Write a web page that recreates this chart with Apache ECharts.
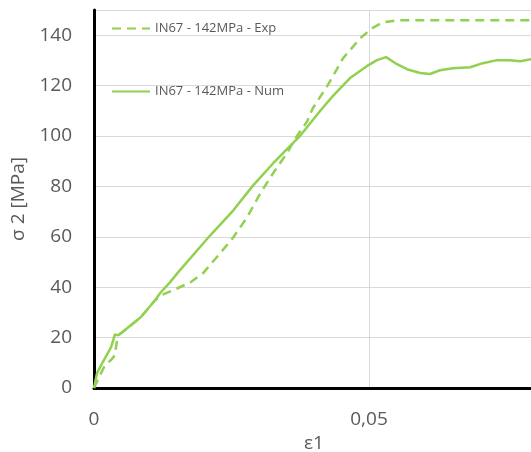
<!DOCTYPE html>
<html><head><meta charset="utf-8">
<script src="https://cdn.jsdelivr.net/npm/echarts@6/dist/echarts.min.js"></script>
<style>html,body{margin:0;padding:0;background:#fff}#c{width:531px;height:452px}</style>
</head><body><div id="c"></div>
<script>
const seriesNames = ["IN67 - 142MPa - Exp", "IN67 - 142MPa - Num"];
const expX = [0,0.0011,0.002,0.0031,0.0038,0.004,0.0042,0.0045,0.0049,0.0067,0.0085,0.0111,0.0124,0.0144,0.0175,0.0198,0.0229,0.0253,0.0278,0.0302,0.0325,0.0351,0.0369,0.0387,0.0398,0.0424,0.0453,0.0484,0.0505,0.0525,0.0551,0.0795];
const expY = [0,5.1,9.1,11.1,13.0,16.2,19.0,21.0,21.7,24.9,28.1,34.8,37.0,38.8,41.9,45.5,53.4,59.7,67.6,77.1,85.0,93.3,100.0,105.6,111.1,119.8,130.9,138.8,142.7,145.1,145.9,145.9];
const numX = [0,0.00055,0.0016,0.0025,0.0031,0.0035,0.0038,0.0044,0.0049,0.0067,0.0085,0.0111,0.0120,0.0138,0.0156,0.0211,0.0253,0.0289,0.0325,0.0362,0.03745,0.0411,0.04345,0.04655,0.0496,0.05145,0.0531,0.0551,0.0569,0.0593,0.0611,0.0629,0.0653,0.0684,0.0707,0.0733,0.0756,0.0775,0.0795];
const numY = [0,5.9,10.3,13.8,16.2,19.0,21.3,20.9,21.7,24.9,28.1,34.8,37.6,41.9,46.7,60.5,70.4,80.3,89.0,97.3,100.0,109.9,115.9,123.0,127.7,130.1,131.3,128.5,126.5,125.0,124.6,126.1,126.9,127.3,128.9,130.1,130.1,129.7,130.5];
const xTicks = [0, 0.05];
const yTicks = [0,20,40,60,80,100,120,140];

const pair = (xs, ys) => xs.map((x,i)=>[x, ys[i]]);
const green = '#92d050';
const txt = '#595959';
const ff = 'Open Sans';
const chart = echarts.init(document.getElementById('c'), null, {renderer:'canvas'});
chart.setOption({
  animation:false,
  backgroundColor:'#fff',
  grid:{left:94, right:-3, top:10, bottom:64, containLabel:false, outerBoundsMode:'none'},
  legend:{
    orient:'vertical', left:111, top:22, padding:0, itemWidth:38, itemHeight:14, itemGap:50,
    itemStyle:{opacity:0},
    textStyle:{color:txt, fontFamily:ff, fontSize:13},
    data:seriesNames
  },
  xAxis:{
    type:'value', min:0, max:0.08, interval:0.05,
    name:'ε1', nameLocation:'middle', nameGap:42,
    nameTextStyle:{color:txt, fontFamily:ff, fontSize:19},
    axisLine:{show:true, onZero:false, lineStyle:{color:'#000', width:3}},
    axisTick:{show:false},
    axisLabel:{color:txt, fontFamily:ff, fontSize:19, margin:22,
      formatter:v=> xTicks.some(t=>Math.abs(t-v)<1e-9) ? (v===0?'0':String(v).replace('.',',')) : ''},
    splitLine:{show:true, lineStyle:{color:'#d9d9d9', width:1}}
  },
  yAxis:{
    type:'value', min:0, max:150, interval:20,
    name:'σ 2 [MPa]', nameLocation:'middle', nameGap:64, nameRotate:90,
    nameTextStyle:{color:txt, fontFamily:ff, fontSize:19},
    axisLine:{show:true, lineStyle:{color:'#000', width:3}},
    axisTick:{show:false},
    axisLabel:{color:txt, fontFamily:ff, fontSize:19, margin:22,
      formatter:v=> yTicks.includes(v) ? String(v) : ''},
    splitLine:{show:true, lineStyle:{color:'#d9d9d9', width:1}}
  },
  series:[
    {name:seriesNames[0], type:'line', data:pair(expX,expY), showSymbol:false, symbol:'none',
     lineStyle:{color:green, width:2.5, type:[9,6]}, itemStyle:{color:green}},
    {name:seriesNames[1], type:'line', data:pair(numX,numY), showSymbol:false, symbol:'none',
     lineStyle:{color:green, width:2.5}, itemStyle:{color:green}}
  ]
});
</script></body></html>
